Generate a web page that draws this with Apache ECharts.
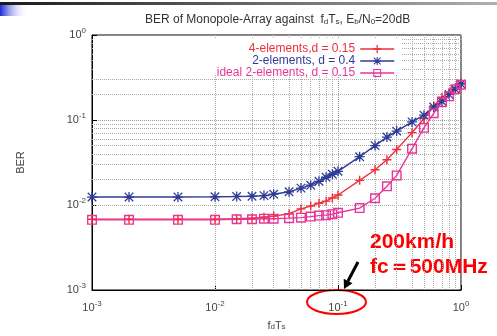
<!DOCTYPE html>
<html>
<head>
<meta charset="utf-8">
<script src="https://cdn.jsdelivr.net/npm/echarts@6/dist/echarts.min.js"></script>
<style>
html, body { margin: 0; padding: 0; background: #fff; }
#chart { width: 497px; height: 336px; }
</style>
</head>
<body>
<div id="chart"></div>
<script>
// f_d*T_s sample points
var fdTs = [0.001, 0.002, 0.005, 0.01, 0.015, 0.02, 0.025, 0.03, 0.04, 0.05, 0.06, 0.07, 0.08, 0.09,
    0.1, 0.15, 0.2, 0.25, 0.3, 0.4, 0.5, 0.6, 0.7, 0.8, 0.9, 1.0];
// BER
var ber4d015 = [0.0068, 0.0068, 0.0068, 0.0068, 0.0069, 0.0070, 0.0072, 0.0074, 0.0079, 0.0090, 0.0097, 0.0105, 0.0111, 0.0121,
    0.0131, 0.0195, 0.026, 0.034, 0.045, 0.071, 0.104, 0.146, 0.185, 0.21, 0.24, 0.27];
var ber2d04 = [0.0124, 0.0124, 0.0124, 0.0125, 0.0126, 0.0127, 0.0129, 0.0134, 0.0143, 0.0158, 0.0171, 0.0190, 0.0212, 0.0230,
    0.0249, 0.037, 0.050, 0.063, 0.074, 0.095, 0.114, 0.142, 0.166, 0.20, 0.23, 0.265];
var berIdeal = [0.0067, 0.0067, 0.0067, 0.0067, 0.0068, 0.0068, 0.0069, 0.0069, 0.0070, 0.0071, 0.0073, 0.0075, 0.0076, 0.0078,
    0.0081, 0.0092, 0.012, 0.0166, 0.0223, 0.046, 0.081, 0.12, 0.162, 0.19, 0.23, 0.26];
var seriesNames = ["4-elements,d = 0.15", "2-elements, d = 0.4", "ideal 2-elements, d = 0.15"];
var decades = [0.001, 0.01, 0.1];

var RED = "#ee2f3c", BLUE = "#2f3c96", PINK = "#e8359a";
var plusSym = "path://M4.2,0H5.8V4.2H10V5.8H5.8V10H4.2V5.8H0V4.2H4.2Z";
var starSym = "path://M4.35,0H5.65V4.35H10V5.65H5.65V10H4.35V5.65H0V4.35H4.35Z M1.2,0.3L5,4.1L8.8,0.3L9.7,1.2L5.9,5L9.7,8.8L8.8,9.7L5,5.9L1.2,9.7L0.3,8.8L4.1,5L0.3,1.2Z";
var boxSym = "path://M0,0H10V10H0Z M1.4,1.4V8.6H8.6V1.4Z";
var colors = [RED, BLUE, PINK];

function pairs(ys) {
    var out = [];
    for (var i = 0; i < fdTs.length; i++) {
        out.push([fdTs[i], ys[i]]);
    }
    return out;
}

// minor grid lines at 2..9 x 10^k
var minorLines = [];
for (var d = 0; d < decades.length; d++) {
    for (var m = 2; m <= 9; m++) {
        minorLines.push({xAxis: decades[d] * m});
        minorLines.push({yAxis: decades[d] * m});
    }
}

var expRich = {
    b: {fontSize: 11, color: "#444", lineHeight: 16},
    sup: {fontSize: 8, color: "#444", verticalAlign: "top", lineHeight: 10}
};
function expLabel(v) {
    var e = Math.round(Math.log10(v));
    return "{b|10}{sup|" + e + "}";
}

function legendOf(i, top) {
    return {
        data: [{
            name: seriesNames[i],
            itemStyle: {color: colors[i], opacity: 1},
            lineStyle: {color: colors[i], width: 1.6, opacity: 1},
            textStyle: {color: colors[i]}
        }],
        orient: "vertical",
        align: "right",
        right: 97,
        top: top,
        z: 10,
        itemWidth: 34,
        itemHeight: 10,
        textStyle: {color: colors[i], fontSize: 12, fontFamily: "Liberation Sans"}
    };
}

var myChart = echarts.init(document.getElementById("chart"));
var option = {
    animation: false,
    title: {
        text: "BER of Monopole-Array against  f{s|d}T{s|s}, E{s|b}/N{s|0}=20dB",
        left: 140,
        top: 9,
        textStyle: {
            fontSize: 12,
            fontWeight: "normal",
            color: "#333",
            fontFamily: "Liberation Sans",
            rich: {
                s: {fontSize: 8, color: "#333", verticalAlign: "bottom", lineHeight: 10}
            }
        }
    },
    legend: [legendOf(0, 38), legendOf(1, 50), legendOf(2, 62)],
    grid: {left: 92, right: 36, top: 35, bottom: 43, show: true, borderColor: "#000", borderWidth: 1},
    xAxis: {
        type: "log",
        logBase: 10,
        min: 0.001,
        max: 1,
        name: "f{s|d}T{s|s}",
        nameLocation: "middle",
        nameGap: 30,
        nameTextStyle: {
            fontSize: 11, color: "#444", fontFamily: "Liberation Sans",
            rich: {s: {fontSize: 8, color: "#444", verticalAlign: "bottom", lineHeight: 10}}
        },
        axisLine: {lineStyle: {color: "#000"}},
        axisTick: {inside: true, length: 5, lineStyle: {color: "#000"}},
        axisLabel: {formatter: expLabel, rich: expRich, margin: 10, fontFamily: "Liberation Sans"},
        splitLine: {show: true, lineStyle: {color: "#999", type: "dotted"}}
    },
    yAxis: {
        type: "log",
        logBase: 10,
        min: 0.001,
        max: 1,
        name: "BER",
        nameLocation: "middle",
        nameGap: 66,
        nameTextStyle: {fontSize: 11, color: "#444", fontFamily: "Liberation Sans"},
        axisLine: {lineStyle: {color: "#000"}},
        axisTick: {inside: true, length: 5, lineStyle: {color: "#000"}},
        axisLabel: {formatter: expLabel, rich: expRich, margin: 6, fontFamily: "Liberation Sans"},
        splitLine: {show: true, lineStyle: {color: "#999", type: "dotted"}}
    },
    series: [
        {
            name: "minor",
            type: "line",
            data: [],
            silent: true,
            z: 1,
            markLine: {
                silent: true,
                z: 1,
                symbol: "none",
                label: {show: false},
                lineStyle: {color: "#aaa", type: "dotted", width: 1},
                data: minorLines
            }
        },
        {
            name: seriesNames[0],
            type: "line",
            data: pairs(ber4d015),
            symbol: plusSym,
            symbolSize: 9,
            lineStyle: {color: RED, width: 1.4},
            itemStyle: {color: RED}
        },
        {
            name: seriesNames[1],
            type: "line",
            data: pairs(ber2d04),
            symbol: starSym,
            symbolSize: 10,
            lineStyle: {color: BLUE, width: 1.4},
            itemStyle: {color: BLUE}
        },
        {
            name: seriesNames[2],
            type: "line",
            data: pairs(berIdeal),
            symbol: boxSym,
            symbolSize: 10,
            lineStyle: {color: PINK, width: 1.4},
            itemStyle: {color: PINK}
        }
    ],
    graphic: {
        z: 3,
        elements: [
            {
                // opaque key box, hides grid behind legend
                type: "rect", left: 93, top: 38, z: 3, silent: true,
                shape: {width: 309, height: 37},
                style: {fill: "#fff"}
            },
            {
                type: "rect", left: 0, top: 5, shape: {width: 28, height: 11}, silent: true,
                style: {fill: new echarts.graphic.LinearGradient(0, 0, 1, 0, [
                    {offset: 0, color: "#1a2ad0"}, {offset: 1, color: "rgba(255,255,255,0)"}])}
            },
            {
                type: "rect", left: 0, top: 2, shape: {width: 497, height: 3}, silent: true,
                style: {fill: new echarts.graphic.LinearGradient(0, 0, 1, 0, [
                    {offset: 0, color: "#1a1a1a"}, {offset: 1, color: "#b0b0b0"}])}
            },
            {
                type: "text", left: 370, top: 232, silent: true,
                style: {text: "200km/h", fill: "#ff0000", font: "bold 21px 'Liberation Sans'"}
            },
            {
                type: "text", left: 370, top: 257, silent: true,
                style: {text: "fc＝500MHz", fill: "#ff0000", font: "bold 21px 'Liberation Sans'"}
            },
            {
                type: "ellipse", silent: true,
                shape: {cx: 336.5, cy: 302, rx: 29.5, ry: 12},
                style: {fill: "none", stroke: "#ff0000", lineWidth: 2}
            },
            {
                type: "line", silent: true,
                shape: {x1: 358, y1: 262, x2: 348, y2: 281},
                style: {stroke: "#000", lineWidth: 3}
            },
            {
                type: "polygon", silent: true,
                shape: {points: [[344, 289], [352.5, 283.3], [343.7, 278.7]]},
                style: {fill: "#000"}
            }
        ]
    }
};
myChart.setOption(option);
</script>
</body>
</html>
